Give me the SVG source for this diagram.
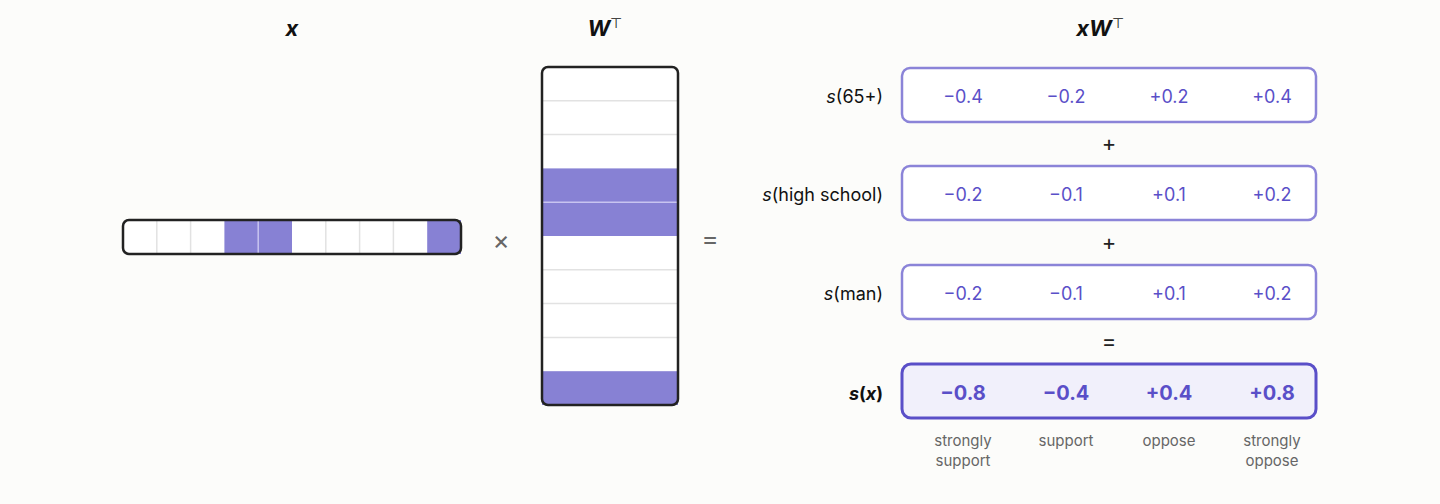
<svg xmlns="http://www.w3.org/2000/svg" width="1440" height="504" viewBox="0 0 1440 504">
<style>
text{font-family:"Inter","Liberation Sans",sans-serif}
.t{font-size:22px;font-weight:700;font-style:italic;fill:#111;text-anchor:middle}
.lab{font-size:18px;fill:#111;text-anchor:end}
.v{font-size:18px;fill:#5a4fc8;text-anchor:middle}
.vb{font-size:20px;font-weight:700;fill:#5a4fc8;text-anchor:middle}
.op{font-size:26px;fill:#666;text-anchor:middle}
.opb{font-size:22px;fill:#222;text-anchor:middle}
.c{font-size:15px;fill:#666;text-anchor:middle}
.box{fill:#fff;stroke:#8b84d8;stroke-width:2.5}
.pu{fill:#8781d4}
.gl{stroke:#e2e2e2;stroke-width:1.5}
.wl{stroke:#c8c4f0;stroke-width:1.5}
</style>
<rect width="1440" height="504" fill="#fcfcfa"/>
<text class="t" x="292" y="36">x</text>
<text class="t" x="605" y="36">W<tspan font-size="14" font-style="normal" font-weight="400" dy="-8">⊤</tspan></text>
<text class="t" x="1100" y="36">xW<tspan font-size="14" font-style="normal" font-weight="400" dy="-8">⊤</tspan></text>
<g id="vec_x">
<rect x="123" y="220" width="338" height="34" rx="6" fill="#fff"/>
<rect class="pu" x="224.4" y="220" width="67.6" height="34"/>
<rect class="pu" x="427.2" y="220" width="33.8" height="34"/>
<g class="gl"><line x1="156.8" y1="221" x2="156.8" y2="253"/><line x1="190.6" y1="221" x2="190.6" y2="253"/><line x1="325.8" y1="221" x2="325.8" y2="253"/><line x1="359.6" y1="221" x2="359.6" y2="253"/><line x1="393.4" y1="221" x2="393.4" y2="253"/></g>
<line class="wl" x1="258.2" y1="221" x2="258.2" y2="253"/>
<rect x="123" y="220" width="338" height="34" rx="6" fill="none" stroke="#222" stroke-width="2.5"/>
</g>
<text class="op" x="501" y="249">×</text>
<g id="mat_W">
<rect x="542" y="67" width="136" height="338" rx="6" fill="#fff"/>
<rect class="pu" x="542" y="168.4" width="136" height="67.6"/>
<rect class="pu" x="542" y="371.2" width="136" height="33.8"/>
<g class="gl"><line x1="543" y1="100.8" x2="677" y2="100.8"/><line x1="543" y1="134.6" x2="677" y2="134.6"/><line x1="543" y1="269.8" x2="677" y2="269.8"/><line x1="543" y1="303.6" x2="677" y2="303.6"/><line x1="543" y1="337.4" x2="677" y2="337.4"/></g>
<line class="wl" x1="543" y1="202.2" x2="677" y2="202.2"/>
<rect x="542" y="67" width="136" height="338" rx="6" fill="none" stroke="#222" stroke-width="2.5"/>
</g>
<text class="op" x="710" y="248">=</text>
<g id="s65">
<text class="lab" x="883" y="103"><tspan font-style="italic">s</tspan>(65+)</text>
<rect class="box" x="902" y="68" width="414" height="54" rx="8"/>
<text class="v" x="963" y="103">−0.4</text><text class="v" x="1066" y="103">−0.2</text><text class="v" x="1169" y="103">+0.2</text><text class="v" x="1272" y="103">+0.4</text>
</g>
<text class="opb" x="1109" y="151">+</text>
<g id="shs">
<text class="lab" x="883" y="201"><tspan font-style="italic">s</tspan>(high school)</text>
<rect class="box" x="902" y="166" width="414" height="54" rx="8"/>
<text class="v" x="963" y="201">−0.2</text><text class="v" x="1066" y="201">−0.1</text><text class="v" x="1169" y="201">+0.1</text><text class="v" x="1272" y="201">+0.2</text>
</g>
<text class="opb" x="1109" y="250">+</text>
<g id="sman">
<text class="lab" x="883" y="300"><tspan font-style="italic">s</tspan>(man)</text>
<rect class="box" x="902" y="265" width="414" height="54" rx="8"/>
<text class="v" x="963" y="300">−0.2</text><text class="v" x="1066" y="300">−0.1</text><text class="v" x="1169" y="300">+0.1</text><text class="v" x="1272" y="300">+0.2</text>
</g>
<text class="opb" x="1109" y="349">=</text>
<g id="sx">
<text class="lab" x="883" y="400" font-weight="700" font-size="20"><tspan font-style="italic">s</tspan>(<tspan font-style="italic">x</tspan>)</text>
<rect x="902" y="364" width="414" height="54" rx="9" fill="#f1f0fb" stroke="#5a4fc8" stroke-width="3"/>
<text class="vb" x="963" y="400">−0.8</text><text class="vb" x="1066" y="400">−0.4</text><text class="vb" x="1169" y="400">+0.4</text><text class="vb" x="1272" y="400">+0.8</text>
</g>
<g id="captions">
<text class="c" x="963" y="446">strongly</text><text class="c" x="963" y="466">support</text>
<text class="c" x="1066" y="446">support</text>
<text class="c" x="1169" y="446">oppose</text>
<text class="c" x="1272" y="446">strongly</text><text class="c" x="1272" y="466">oppose</text>
</g>
<g id="connectors"/>
</svg>
